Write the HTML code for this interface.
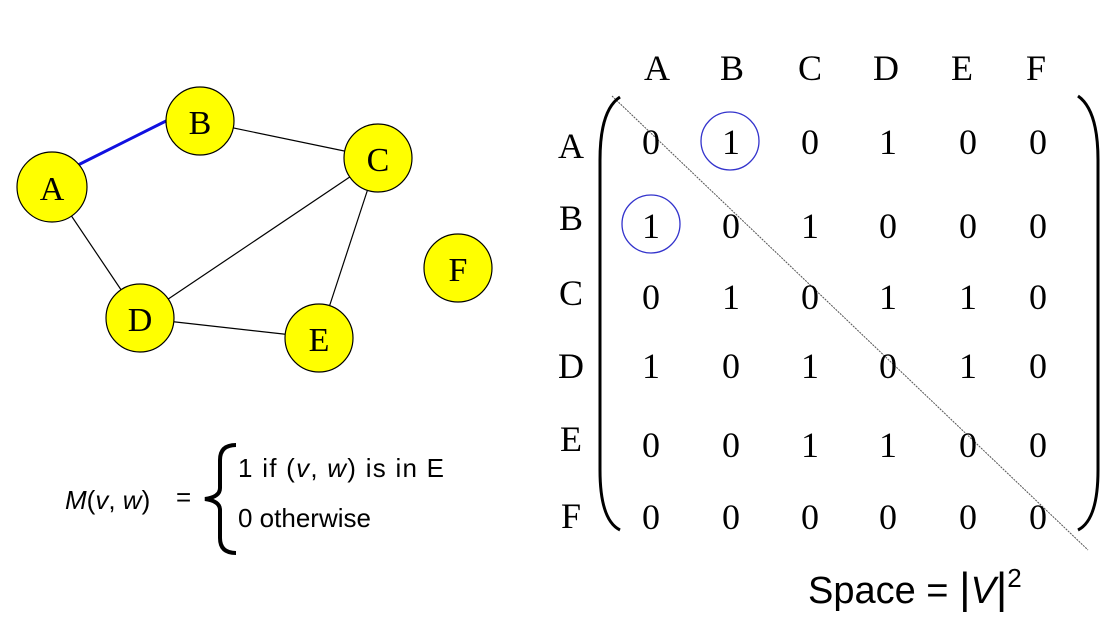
<!DOCTYPE html>
<html><head><style>body{margin:0;background:#fff}svg{display:block}</style></head><body>
<svg width="1116" height="620" viewBox="0 0 1116 620" xmlns="http://www.w3.org/2000/svg">
<g stroke="#000" stroke-width="1.2">
<line x1="52" y1="187" x2="140" y2="318"/>
<line x1="200" y1="121" x2="378" y2="158"/>
<line x1="378" y1="158" x2="140" y2="318"/>
<line x1="378" y1="158" x2="319" y2="338"/>
<line x1="140" y1="318" x2="319" y2="338"/>
</g>
<line x1="78" y1="165" x2="168" y2="120" stroke="#1010e0" stroke-width="3"/>
<g fill="#ffff00" stroke="#000" stroke-width="1.2">
<circle cx="52" cy="187" r="35"/><circle cx="200" cy="121" r="34"/><circle cx="378" cy="158" r="34"/>
<circle cx="140" cy="318" r="34"/><circle cx="319" cy="338" r="34"/><circle cx="458" cy="268" r="34"/>
</g>
<g font-family="Liberation Serif, serif" font-size="34" text-anchor="middle">
<text x="52" y="200">A</text><text x="200" y="134">B</text><text x="378" y="171">C</text>
<text x="140" y="331">D</text><text x="319" y="351">E</text><text x="458" y="281">F</text>
</g>
<g font-family="Liberation Sans, sans-serif" font-size="26">
<text x="65" y="509"><tspan font-style="italic">M</tspan>(<tspan font-style="italic">v</tspan>,  <tspan font-style="italic">w</tspan>)</text>
<text x="176" y="506">=</text>
<text x="238" y="477" textLength="206">1 if (<tspan font-style="italic">v</tspan>, <tspan font-style="italic">w</tspan>) is in E</text>
<text x="238" y="527">0 otherwise</text>
</g>
<path d="M236 445 Q220 445 220 460 L220 488 Q220 497 205 499 Q220 501 220 510 L220 538 Q220 553 236 553" fill="none" stroke="#000" stroke-width="4"/>
<line x1="612" y1="96" x2="1088" y2="550" stroke="#555" stroke-width="1" stroke-dasharray="2,1"/>
<path d="M620 97 Q600 110 600 160 L600 470 Q600 520 620 530" fill="none" stroke="#000" stroke-width="3"/>
<path d="M1078 96 Q1098 110 1098 160 L1098 470 Q1098 520 1078 530" fill="none" stroke="#000" stroke-width="3"/>
<circle cx="730" cy="141" r="29" fill="none" stroke="#3333cc" stroke-width="1.3"/>
<circle cx="651" cy="224" r="29" fill="none" stroke="#3333cc" stroke-width="1.3"/>
<g font-family="Liberation Serif, serif" font-size="36" text-anchor="middle">
<text x="657" y="80">A</text><text x="732" y="80">B</text><text x="810" y="80">C</text><text x="886" y="80">D</text><text x="962" y="80">E</text><text x="1036" y="80">F</text>
<text x="571" y="158">A</text><text x="571" y="230">B</text><text x="571" y="305">C</text><text x="571" y="378">D</text><text x="571" y="451">E</text><text x="571" y="528">F</text>
<g>
<text x="651" y="154">0</text><text x="731" y="154">1</text><text x="810" y="154">0</text><text x="888" y="154">1</text><text x="968" y="154">0</text><text x="1038" y="154">0</text>
<text x="651" y="238">1</text><text x="731" y="238">0</text><text x="810" y="238">1</text><text x="888" y="238">0</text><text x="968" y="238">0</text><text x="1038" y="238">0</text>
<text x="651" y="309">0</text><text x="731" y="309">1</text><text x="810" y="309">0</text><text x="888" y="309">1</text><text x="968" y="309">1</text><text x="1038" y="309">0</text>
<text x="651" y="378">1</text><text x="731" y="378">0</text><text x="810" y="378">1</text><text x="888" y="378">0</text><text x="968" y="378">1</text><text x="1038" y="378">0</text>
<text x="651" y="457">0</text><text x="731" y="457">0</text><text x="810" y="457">1</text><text x="888" y="457">1</text><text x="968" y="457">0</text><text x="1038" y="457">0</text>
<text x="651" y="529">0</text><text x="731" y="529">0</text><text x="810" y="529">0</text><text x="888" y="529">0</text><text x="968" y="529">0</text><text x="1038" y="529">0</text>
</g></g>
<text x="808" y="603" font-family="Liberation Sans, sans-serif" font-size="38">Space = <tspan font-size="44">|</tspan><tspan font-style="italic">V</tspan><tspan font-size="44">|</tspan><tspan font-size="26" dy="-16">2</tspan></text>
</svg>
</body></html>
